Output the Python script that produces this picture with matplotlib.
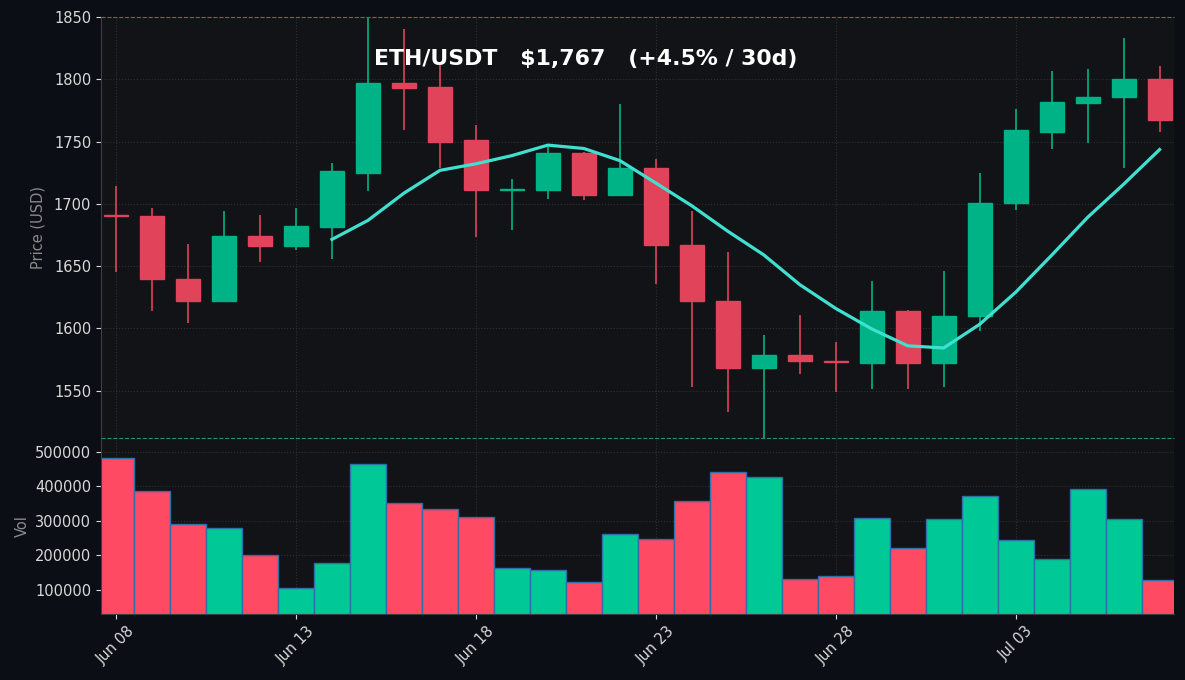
import numpy as np
import pandas as pd
import matplotlib
matplotlib.use('Agg')
import matplotlib.pyplot as plt
from matplotlib.patches import Rectangle

# ── Data ──────────────────────────────────────────────────────────────────────
dates = pd.date_range('2023-06-08', '2023-07-07', freq='D')
opens = [1691, 1690, 1640, 1622, 1674, 1666, 1681, 1725, 1797, 1794,
         1751, 1711, 1711, 1741, 1707, 1729, 1667, 1622, 1568, 1579,
         1574, 1572, 1614, 1572, 1610, 1701, 1758, 1781, 1786, 1800]
highs = [1714, 1697, 1668, 1694, 1691, 1697, 1733, 1850, 1840, 1812,
         1763, 1720, 1748, 1742, 1780, 1736, 1694, 1661, 1595, 1611,
         1589, 1638, 1615, 1646, 1725, 1776, 1807, 1808, 1833, 1811]
lows = [1645, 1614, 1604, 1621, 1653, 1663, 1656, 1710, 1759, 1729,
        1673, 1679, 1704, 1703, 1706, 1636, 1553, 1533, 1510, 1563,
        1549, 1551, 1551, 1553, 1598, 1695, 1744, 1749, 1729, 1758]
closes = [1690, 1640, 1622, 1674, 1666, 1682, 1726, 1797, 1793, 1750,
          1711, 1712, 1741, 1707, 1729, 1667, 1622, 1568, 1579, 1574,
          1573, 1614, 1572, 1610, 1701, 1759, 1782, 1786, 1800, 1767]
volumes = [481000, 385000, 291000, 280000, 202000, 106000, 178000, 466000,
           353000, 335000, 312000, 164000, 158000, 122000, 263000, 248000,
           356000, 442000, 426000, 132000, 140000, 309000, 222000, 306000,
           373000, 245000, 190000, 391000, 306000, 128000]

ma7 = pd.Series(closes).rolling(7).mean()

# ── Style ─────────────────────────────────────────────────────────────────────
FIG_BG = '#0b0e14'
AX_BG = '#121317'
UP = '#00b386'
DOWN = '#e0435a'
VOL_UP = '#00c896'
VOL_DOWN = '#ff4a64'
TXT = '#d8d8d8'
GRID = '#2e3037'

fig = plt.figure(figsize=(11.85, 6.8), dpi=100, facecolor=FIG_BG)
ax = fig.add_axes([0.0852, 0.3559, 0.9055, 0.6191], facecolor=AX_BG)
axv = fig.add_axes([0.0852, 0.0971, 0.9055, 0.2588], facecolor=AX_BG, sharex=ax)
ax.set_zorder(3)

x = np.arange(len(dates))
w = 0.67
for i in x:
    o, h, l, c = opens[i], highs[i], lows[i], closes[i]
    col = UP if c >= o else DOWN
    ax.vlines(i, l, h, color=col, linewidth=1.2, zorder=2)
    body = max(abs(c - o), 0.8)
    ax.add_patch(Rectangle((i - w / 2, min(o, c)), w, body,
                           facecolor=col, edgecolor=col, linewidth=1, zorder=3))

ax.plot(x, ma7, color='#40e0d0', linewidth=2.3, zorder=4)

# 30d high / low reference lines
ax.axhline(max(highs), color='#b04555', linestyle='--', linewidth=0.8, zorder=6, clip_on=False)
ax.axhline(1512, color='#23906f', linestyle='--', linewidth=0.8, zorder=6, clip_on=False)

ax.set_ylim(1512, 1850)
ax.set_yticks([1550, 1600, 1650, 1700, 1750, 1800, 1850])
ax.set_xlim(-0.42, 29.4)
ax.set_ylabel('Price (USD)', color='#8a8a8a', fontsize=10.5, labelpad=6)

vcols = [VOL_UP if c >= o else VOL_DOWN for o, c in zip(opens, closes)]
axv.bar(x, volumes, width=1.0, color=vcols, edgecolor='#2e6fa8', linewidth=1, zorder=2)
axv.set_ylim(30000, 540000)
axv.set_yticks([100000, 200000, 300000, 400000, 500000])
axv.set_ylabel('Vol', color='#8a8a8a', fontsize=10.5)

ticks = x[::5]
axv.set_xticks(ticks)
axv.set_xticklabels([dates[i].strftime('%b %d') for i in ticks], rotation=45)

for a in (ax, axv):
    a.grid(True, color=GRID, linestyle=':', linewidth=0.8, zorder=0)
    a.set_axisbelow(True)
    a.tick_params(colors=TXT, labelsize=10.5)
    for s in ('top', 'right'):
        a.spines[s].set_visible(False)
    for s in ('left', 'bottom'):
        a.spines[s].set_color('#3a3d46')
ax.spines['bottom'].set_visible(False)
ax.tick_params(axis='x', length=0, labelbottom=False)

fig.text(0.494, 0.913, 'ETH/USDT   $1,767   (+4.5% / 30d)', color='white',
         fontsize=15.8, fontweight='bold', ha='center', va='center')

fig.savefig('out.png', dpi=100, facecolor=FIG_BG)
